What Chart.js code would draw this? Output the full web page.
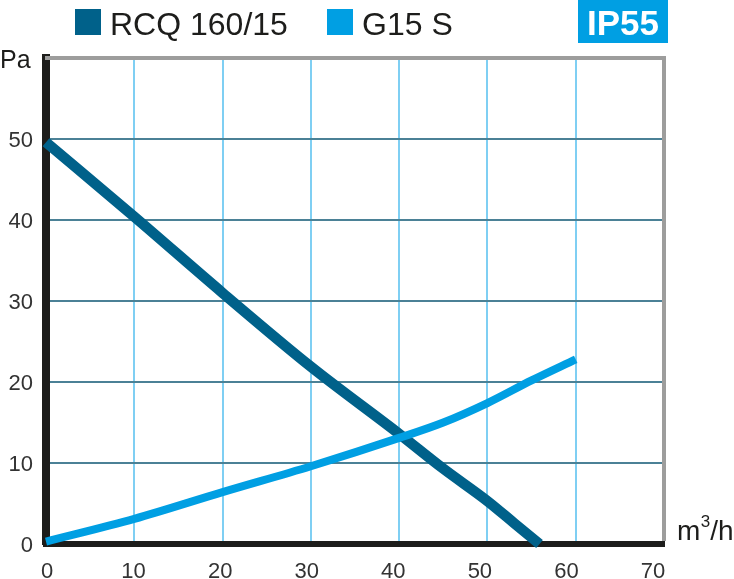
<!DOCTYPE html>
<html>
<head>
<meta charset="utf-8">
<script src="https://cdn.jsdelivr.net/npm/chart.js@4/dist/chart.umd.min.js"></script>
<style>
  html, body { margin: 0; padding: 0; background: #fff; }
  canvas { display: block; }
</style>
</head>
<body>
<canvas id="fanChart" width="734" height="579"></canvas>
<script>
// data (m3/h vs Pa)
const flowRcq = [0, 10, 20, 30, 40, 45, 50, 53, 55.9];
const pressureRcq = [49.6, 40.4, 31.0, 21.9, 13.6, 9.3, 5.3, 2.6, 0];

const flowG15 = [0, 10, 20, 30, 40, 45, 50, 55, 60];
const pressureG15 = [0.3, 3.1, 6.4, 9.6, 13.1, 15.0, 17.4, 20.2, 22.8];

const seriesNames = ["RCQ 160/15", "G15 S"];
const xTicks = [0, 10, 20, 30, 40, 50, 60, 70];
const yTicks = [0, 10, 20, 30, 40, 50];

const regular = "'Liberation Sans', Arial, sans-serif";

// frame, legend, badge and unit labels
const decor = {
  id: "decor",
  beforeDatasetsDraw(chart) {
    const { ctx, chartArea: a } = chart;
    ctx.save();
    ctx.strokeStyle = "#9d9d9c";
    ctx.lineWidth = 4;
    ctx.beginPath();
    ctx.moveTo(a.left - 1, a.top);
    ctx.lineTo(a.right, a.top);
    ctx.lineTo(a.right, a.bottom - 3);
    ctx.stroke();
    ctx.restore();
  },
  afterDraw(chart) {
    const { ctx } = chart;
    ctx.save();
    // legend
    const legendX = [75, 327];
    chart.data.datasets.forEach((ds, i) => {
      ctx.fillStyle = ds.borderColor;
      ctx.fillRect(legendX[i], 9, 26, 26);
      ctx.fillStyle = "#1d1d1b";
      ctx.font = "32px " + regular;
      ctx.textBaseline = "alphabetic";
      ctx.fillText(ds.label, legendX[i] + 35, 35);
    });
    // IP55 badge
    ctx.fillStyle = "#009fe3";
    ctx.fillRect(578, 0, 90, 43);
    ctx.fillStyle = "#fff";
    ctx.font = "bold 35px " + regular;
    ctx.textAlign = "center";
    ctx.fillText("IP55", 623, 35);
    // axis units
    ctx.textAlign = "left";
    ctx.fillStyle = "#1d1d1b";
    ctx.font = "25px " + regular;
    ctx.fillText("Pa", 0, 68);
    let x = 677;
    ctx.font = "28px " + regular;
    ctx.fillText("m", x, 540);
    x += ctx.measureText("m").width + 0.5;
    ctx.font = "17px " + regular;
    ctx.fillText("3", x, 527);
    x += ctx.measureText("3").width;
    ctx.font = "28px " + regular;
    ctx.fillText("/h", x, 540);
    ctx.restore();
  }
};

const ctx = document.getElementById("fanChart").getContext("2d");

new Chart(ctx, {
  type: "line",
  data: {
    datasets: [
      {
        label: seriesNames[0],
        data: flowRcq.map((x, i) => ({ x, y: pressureRcq[i] })),
        borderColor: "#00618a",
        borderWidth: 10.5,
        pointRadius: 0,
        cubicInterpolationMode: "monotone",
        clip: false,
        order: 1,
      },
      {
        label: seriesNames[1],
        data: flowG15.map((x, i) => ({ x, y: pressureG15[i] })),
        borderColor: "#009fe3",
        borderWidth: 8,
        pointRadius: 0,
        cubicInterpolationMode: "monotone",
        clip: false,
        order: 0,
      },
    ],
  },
  options: {
    responsive: false,
    devicePixelRatio: 1,
    animation: false,
    layout: { padding: { top: 58, right: 70, left: 0, bottom: 0 } },
    plugins: {
      legend: { display: false },
      tooltip: { enabled: false },
    },
    scales: {
      x: {
        type: "linear",
        position: "bottom",
        min: 0,
        max: 70,
        afterBuildTicks: (s) => { s.ticks = xTicks.map((v) => ({ value: v })); },
        afterFit: (s) => { s.height = 0; },
        ticks: { display: false },
        grid: {
          drawTicks: false,
          lineWidth: 2,
          color: (c) => (c.tick && (c.tick.value === 0 || c.tick.value === 70) ? "rgba(0,0,0,0)" : "#7fcff3"),
        },
        border: { color: "#1d1d1b", width: 6 },
      },
      // tick labels of the printed chart sit slightly off the grid, so they get their own axis
      xl: {
        type: "linear",
        position: "bottom",
        min: -0.12,
        max: 71.27,
        afterBuildTicks: (s) => { s.ticks = xTicks.map((v) => ({ value: v })); },
        afterFit: (s) => { s.height = 35; },
        ticks: {
          autoSkip: false,
          maxRotation: 0,
          padding: 15,
          color: "#333333",
          font: { family: regular, size: 22 },
        },
        grid: { display: false, drawTicks: false },
        border: { display: false },
      },
      y: {
        type: "linear",
        min: 0,
        max: 60,
        afterBuildTicks: (s) => { s.ticks = yTicks.map((v) => ({ value: v })); },
        afterFit: (s) => { s.width = 46; },
        ticks: {
          padding: 13,
          labelOffset: 2,
          color: "#333333",
          font: { family: regular, size: 22 },
        },
        grid: {
          drawTicks: false,
          lineWidth: 2,
          color: (c) => (c.tick && c.tick.value === 0 ? "rgba(0,0,0,0)" : "#4b8196"),
        },
        border: { color: "#1d1d1b", width: 8 },
      },
    },
  },
  plugins: [decor],
});
</script>
</body>
</html>
